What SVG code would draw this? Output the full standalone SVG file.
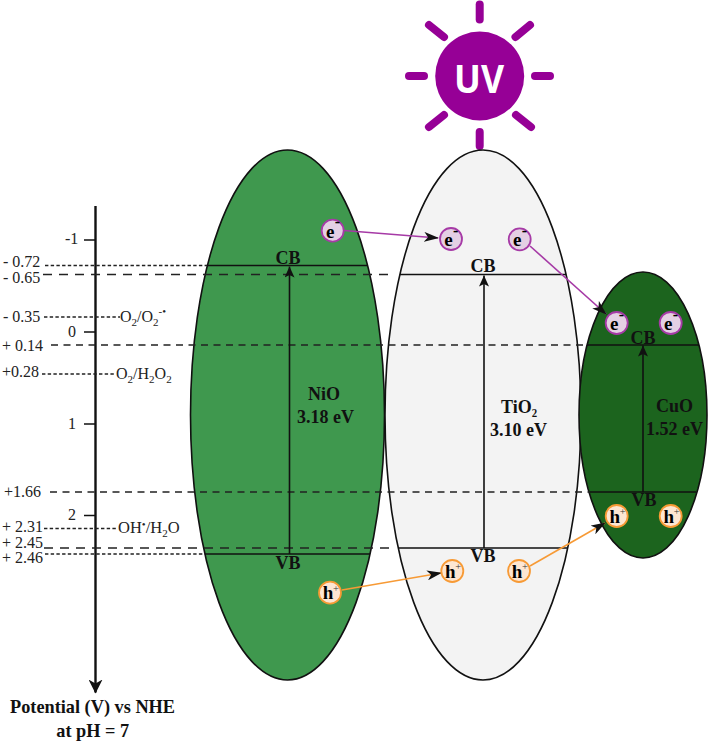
<svg xmlns="http://www.w3.org/2000/svg" width="708" height="741" viewBox="0 0 708 741">
<style>
text{font-family:"Liberation Serif","Times New Roman",serif;fill:#222}
.t{font-size:16px}
.lb{font-size:18.300px;font-weight:bold;fill:#111;text-anchor:middle}
.s{stroke:#111;stroke-width:1.6;fill:none}
.dot{stroke:#222;stroke-width:1.5;stroke-dasharray:3.4 2.3;fill:none}
.dash{stroke:#222;stroke-width:1.5;stroke-dasharray:9 7;fill:none}
.dash2{stroke:#222;stroke-width:1.5;stroke-dasharray:7 5.5;fill:none}
.ray{stroke:#960096;stroke-width:8;stroke-linecap:round}
.el{stroke:#111;stroke-width:1.6}
.e{fill:#e4d0e4;stroke:#a63aa6;stroke-width:1.8}
.h{fill:#fde6d2;stroke:#f79a35;stroke-width:1.8}
.lab{font-size:18px;font-weight:bold;fill:#111;text-anchor:middle}
.g{font-size:19px;font-weight:bold;fill:#000;text-anchor:middle}
.m{font-size:16px;font-weight:bold;fill:#000}
.p{font-size:10.500px;fill:#333}
.sm{font-size:11px}
</style>
<defs>
<marker id="ah" markerWidth="15" markerHeight="10" refX="14" refY="5" orient="auto" markerUnits="userSpaceOnUse"><path d="M0 0L15 5L0 10L4 5Z" fill="#111"/></marker>
<marker id="up" markerWidth="11" markerHeight="10" refX="11" refY="5" orient="auto" markerUnits="userSpaceOnUse"><path d="M0 0L11 5L0 10L2.500 5Z" fill="#111"/></marker>
<marker id="big" markerWidth="14" markerHeight="14" refX="13" refY="7" orient="auto" markerUnits="userSpaceOnUse"><path d="M0 0L14 7L0 14L4 7Z" fill="#111"/></marker>
</defs>
<g id="sun">
<circle cx="479.700" cy="76" r="44.500" fill="#960096"/>
<line class="ray" x1="479.700" y1="4.500" x2="479.700" y2="19.500"/>
<line class="ray" x1="479.700" y1="132" x2="479.700" y2="146"/>
<line class="ray" x1="409" y1="76" x2="424" y2="76"/>
<line class="ray" x1="535" y1="76" x2="550" y2="76"/>
<line class="ray" x1="429" y1="25" x2="444" y2="37"/>
<line class="ray" x1="515.500" y1="37" x2="530" y2="25"/>
<line class="ray" x1="429" y1="127" x2="444" y2="115"/>
<line class="ray" x1="516" y1="115" x2="531" y2="127"/>
<text x="479" y="93" text-anchor="middle" textLength="50" lengthAdjust="spacingAndGlyphs" style="font-family:'Open Sans',sans-serif;font-size:39px;font-weight:bold;fill:#fff">UV</text>
</g>
<g id="nio"><ellipse class="el" cx="287.500" cy="415" rx="97" ry="265" fill="#3f984e"/></g>
<g id="tio2"><ellipse class="el" cx="483" cy="415" rx="98" ry="265" fill="#f3f3f3"/></g>
<g id="cuo"><ellipse class="el" cx="643" cy="415" rx="64" ry="143" fill="#1c641e"/></g>
<g id="connectors">
<line x1="95.500" y1="206" x2="95.500" y2="692.500" stroke="#111" stroke-width="2.400" marker-end="url(#big)"/>
<path class="s" d="M84 240H95M84 332H95M84 424H95M84 515.500H95"/>
<path class="dot" d="M45 265.500H207M44 317H120M42 374H115M44 528.500H118M45 554H205"/>
<path class="dash" d="M43 274.500H395M44 548H394"/>
<path class="dash2" d="M51 345H587M50 492H590"/>
<path class="s" d="M207 265.500H367M205 554H370M400 274.500H566M398 548H568M587 345H699M590 492H696"/>
<line class="s" x1="289.500" y1="554" x2="289.500" y2="266.500" marker-end="url(#up)"/>
<line class="s" x1="484" y1="548" x2="484" y2="275.500" marker-end="url(#up)"/>
<line class="s" x1="643" y1="492" x2="643" y2="345.500" marker-end="url(#up)"/>
<line x1="344" y1="230.500" x2="438" y2="238" stroke="#a63aa6" stroke-width="1.600" marker-end="url(#ah)"/>
<line x1="530" y1="246" x2="606" y2="314" stroke="#a63aa6" stroke-width="1.600" marker-end="url(#ah)"/>
<line x1="342" y1="590" x2="441" y2="573" stroke="#f79a35" stroke-width="1.600" marker-end="url(#ah)"/>
<line x1="530" y1="566" x2="605" y2="523" stroke="#f79a35" stroke-width="1.600" marker-end="url(#ah)"/>
</g>
<g id="axis-labels">
<text class="t" x="65" y="244">-1</text>
<text class="t" x="68" y="337">0</text>
<text class="t" x="68" y="429">1</text>
<text class="t" x="68" y="520">2</text>
<text class="t" x="3" y="267">- 0.72</text>
<text class="t" x="3" y="282.500">- 0.65</text>
<text class="t" x="3" y="322">- 0.35</text>
<text class="t" x="2" y="351">+ 0.14</text>
<text class="t" x="2" y="377">+0.28</text>
<text class="t" x="4" y="497">+1.66</text>
<text class="t" x="2" y="532">+ 2.31</text>
<text class="t" x="2" y="547.500">+ 2.45</text>
<text class="t" x="2" y="563">+ 2.46</text>
<text class="t" x="120" y="322">O<tspan class="sm" dy="4">2</tspan><tspan dy="-4">/O</tspan><tspan class="sm" dy="4">2</tspan><tspan class="sm" dy="-11">-•</tspan></text>
<text class="t" x="116" y="379">O<tspan class="sm" dy="4">2</tspan><tspan dy="-4">/H</tspan><tspan class="sm" dy="4">2</tspan><tspan dy="-4">O</tspan><tspan class="sm" dy="4">2</tspan></text>
<text class="t" x="118" y="533" style="font-size:16.500px">OH<tspan class="sm" dy="-5">•</tspan><tspan dy="5">/H</tspan><tspan class="sm" dy="4">2</tspan><tspan dy="-4">O</tspan></text>
<text class="lb" x="92.500" y="713">Potential (V) vs NHE</text>
<text class="lb" x="92.700" y="737">at pH = 7</text>
</g>
<g id="band-labels">
<text class="lab" x="288" y="264">CB</text>
<text class="lab" x="288" y="569">VB</text>
<text class="lab" x="483" y="272">CB</text>
<text class="lab" x="483" y="562">VB</text>
<text class="lab" x="643" y="343.500">CB</text>
<text class="lab" x="644" y="506">VB</text>
<text class="lab" x="324" y="400">NiO</text>
<text class="lab" x="325.500" y="423">3.18 eV</text>
<text class="lab" x="519" y="413">TiO₂</text>
<text class="lab" x="518.500" y="436">3.10 eV</text>
<text class="lab" x="674.500" y="412">CuO</text>
<text class="lab" x="674.500" y="435">1.52 eV</text>
</g>
<g id="electrons">
<g id="e1" transform="translate(332.700 230.700)"><circle class="e" r="11"/><text class="g" x="-2.500" y="7">e</text><text class="m" x="2" y="-3.500">-</text></g>
<g id="e2" transform="translate(451 239)"><circle class="e" r="11"/><text class="g" x="-2.500" y="7">e</text><text class="m" x="2" y="-3.500">-</text></g>
<g id="e3" transform="translate(519.700 239.300)"><circle class="e" r="11"/><text class="g" x="-2.500" y="7">e</text><text class="m" x="2" y="-3.500">-</text></g>
<g id="e4" transform="translate(616.700 323)"><circle class="e" r="11"/><text class="g" x="-2.500" y="7">e</text><text class="m" x="2" y="-3.500">-</text></g>
<g id="e5" transform="translate(670.700 323)"><circle class="e" r="11"/><text class="g" x="-2.500" y="7">e</text><text class="m" x="2" y="-3.500">-</text></g>
</g>
<g id="holes">
<g id="h1" transform="translate(330 592.700)"><circle class="h" r="11"/><text class="g" x="-2" y="6.600">h</text><text class="p" x="3" y="-1.200">+</text></g>
<g id="h2" transform="translate(452.300 571)"><circle class="h" r="11"/><text class="g" x="-2" y="6.600">h</text><text class="p" x="3" y="-1.200">+</text></g>
<g id="h3" transform="translate(519 571)"><circle class="h" r="11"/><text class="g" x="-2" y="6.600">h</text><text class="p" x="3" y="-1.200">+</text></g>
<g id="h4" transform="translate(616.700 516)"><circle class="h" r="11"/><text class="g" x="-2" y="6.600">h</text><text class="p" x="3" y="-1.200">+</text></g>
<g id="h5" transform="translate(670.700 516)"><circle class="h" r="11"/><text class="g" x="-2" y="6.600">h</text><text class="p" x="3" y="-1.200">+</text></g>
</g>
</svg>
